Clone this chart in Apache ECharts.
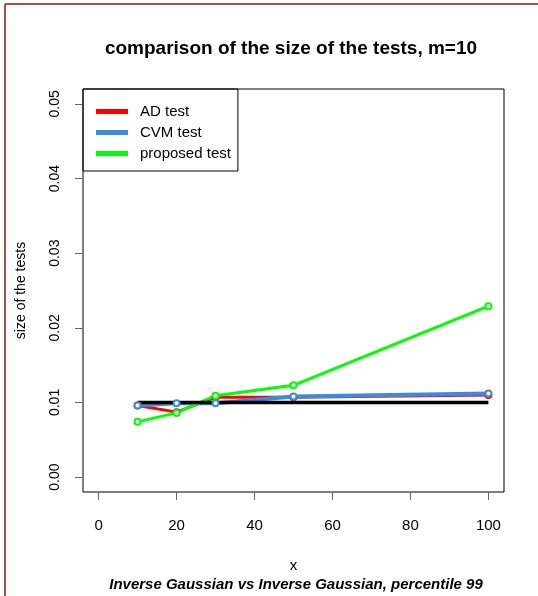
<!DOCTYPE html>
<html>
<head>
<meta charset="utf-8">
<script src="https://cdn.jsdelivr.net/npm/echarts@6/dist/echarts.min.js"></script>
<style>
  html, body { margin: 0; padding: 0; background: #fff; }
  #chart { width: 538px; height: 596px; }
</style>
</head>
<body>
<div id="chart"></div>
<script>
// sample sizes on the x axis
const xValues = [10, 20, 30, 50, 100];
// size of the tests
const adTest = [0.0096, 0.0087, 0.0107, 0.0107, 0.0110];
const cvmTest = [0.0096, 0.0099, 0.0099, 0.0108, 0.0112];
const proposedTest = [0.0074, 0.0086, 0.0109, 0.0123, 0.0229];
const nominalLevel = [[10, 0.01], [100, 0.01]];
const xTicks = [0, 20, 40, 60, 80, 100];
const yTicks = [0, 0.01, 0.02, 0.03, 0.04, 0.05];

const font = 'Liberation Sans, Arial, Helvetica, sans-serif';

const pairs = ys => xValues.map((x, i) => [x, ys[i]]);

const pointSeries = (name, ys, color, lw, bw) => ({
  name: name,
  type: 'line',
  data: pairs(ys),
  symbol: 'emptyCircle',
  symbolSize: 6,
  lineStyle: { color: color, width: lw },
  itemStyle: { color: color, borderColor: color, borderWidth: bw }
});

const chart = echarts.init(document.getElementById('chart'));
chart.setOption({
  animation: false,
  textStyle: { fontFamily: font },
  title: [
    {
      text: 'comparison of the size of the tests, m=10',
      left: 286, top: 34, textAlign: 'center',
      textStyle: { fontSize: 19, fontWeight: 'bold', color: '#000', fontFamily: font }
    },
    {
      text: 'Inverse Gaussian vs Inverse Gaussian, percentile 99',
      left: 291, top: 572, textAlign: 'center',
      textStyle: { fontSize: 15, fontWeight: 'bold', fontStyle: 'italic', color: '#000', fontFamily: font }
    }
  ],
  graphic: [
    { type: 'line', shape: { x1: 5, y1: 4, x2: 5, y2: 596 }, style: { stroke: '#ad4c4a', lineWidth: 2 } },
    { type: 'line', shape: { x1: 5, y1: 4, x2: 538, y2: 4 }, style: { stroke: '#ad4c4a', lineWidth: 2 } }
  ],
  legend: {
    orient: 'vertical',
    left: 83, top: 89,
    padding: [12, 7, 7, 13],
    itemWidth: 30, itemHeight: 3, itemGap: 0,
    icon: 'rect',
    borderColor: '#000', borderWidth: 1,
    textStyle: { fontSize: 15, color: '#000', fontFamily: font, lineHeight: 21, padding: [0, 0, 0, 8] },
    data: ['AD test', 'CVM test', 'proposed test']
  },
  grid: {
    left: 83, right: 34, top: 89, bottom: 104,
    show: true, borderColor: '#000', borderWidth: 1, backgroundColor: 'transparent'
  },
  xAxis: {
    type: 'value', min: -4, max: 104,
    name: 'x', nameLocation: 'middle', nameGap: 66,
    nameTextStyle: { fontSize: 15, color: '#000', fontFamily: font },
    axisLine: { show: false, onZero: false },
    splitLine: { show: false },
    axisTick: { show: true, length: 8, customValues: xTicks, lineStyle: { color: '#666' } },
    axisLabel: { customValues: xTicks, margin: 26, fontSize: 15, color: '#000', fontFamily: font }
  },
  yAxis: {
    type: 'value', min: -0.002, max: 0.052,
    name: 'size of the tests', nameLocation: 'middle', nameGap: 55,
    nameTextStyle: { fontSize: 14, color: '#000', fontFamily: font },
    axisLine: { show: false, onZero: false },
    splitLine: { show: false },
    axisTick: { show: true, length: 8, customValues: yTicks, lineStyle: { color: '#666' } },
    axisLabel: {
      customValues: yTicks, rotate: 90, margin: 21, fontSize: 14, color: '#000', fontFamily: font,
      formatter: v => v.toFixed(2)
    }
  },
  series: [
    pointSeries('AD test', adTest, '#ff0000', 3, 2.5),
    pointSeries('CVM test', cvmTest, '#3a8ddc', 4, 3.5),
    pointSeries('proposed test', proposedTest, '#00ff00', 3, 2.5),
    {
      name: 'nominal', type: 'line', data: nominalLevel,
      symbol: 'none', lineStyle: { color: '#000', width: 3.5 }
    }
  ]
});
</script>
</body>
</html>
